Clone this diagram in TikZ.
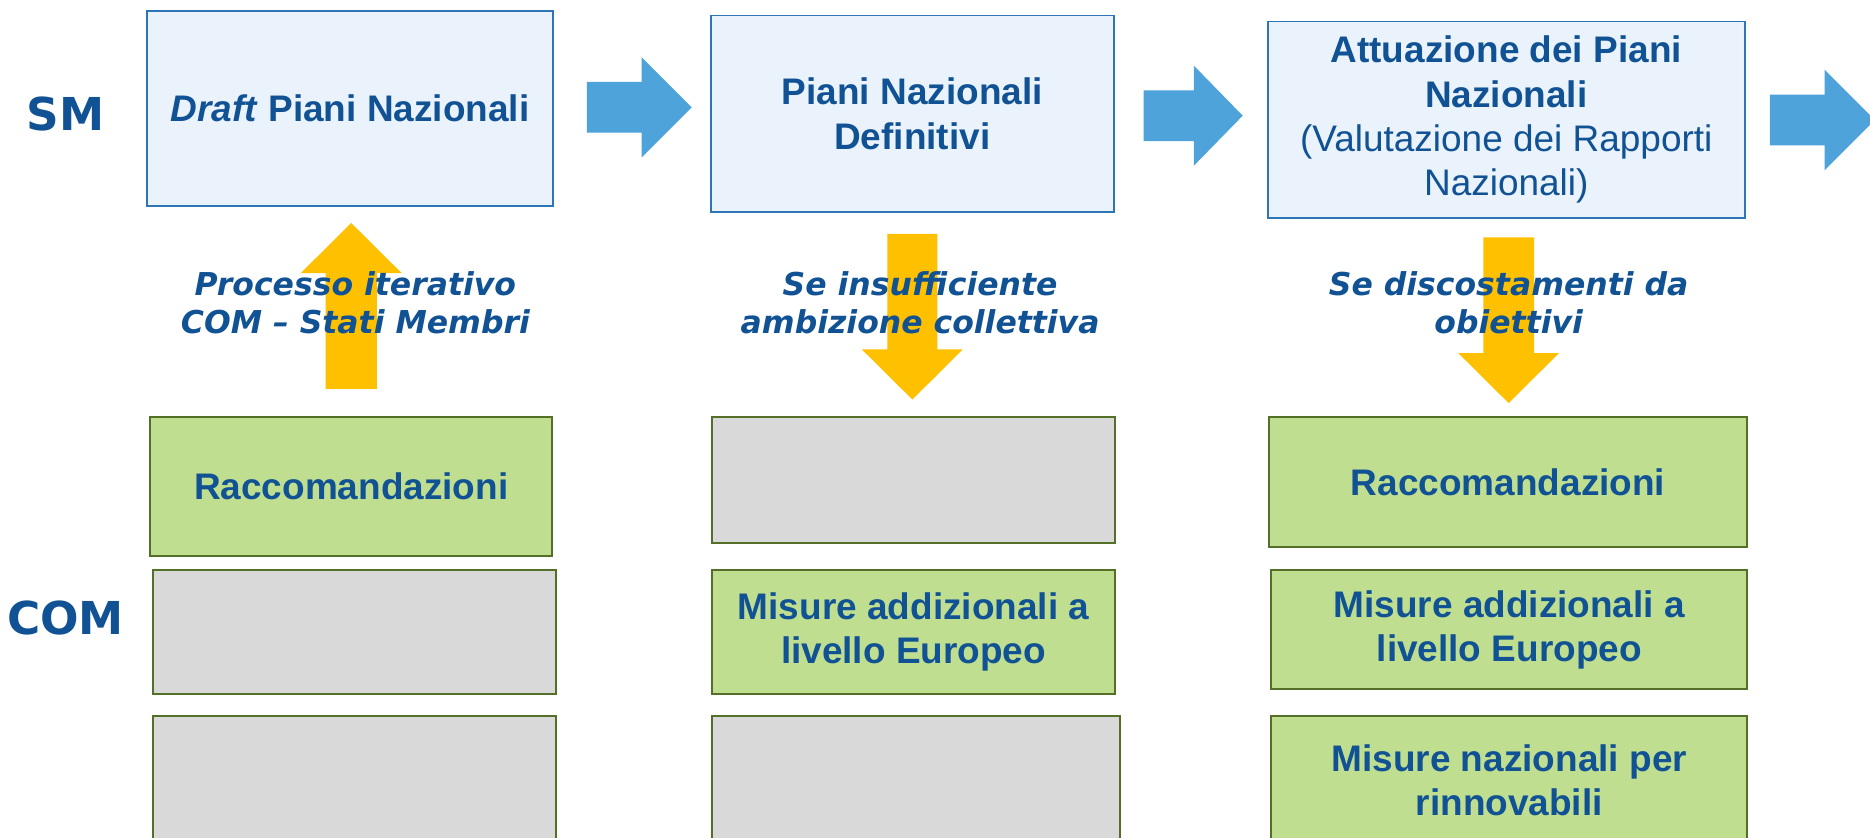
\documentclass[tikz,border=0pt]{standalone}
\usepackage{fontspec}
\setmainfont[Ligatures=TeX]{Liberation Sans}
\newfontfamily\verd[Ligatures=TeX]{DejaVu Sans}
\definecolor{txtblue}{RGB}{17,82,148}
\definecolor{smfill}{RGB}{234,243,251}
\definecolor{smborder}{RGB}{46,117,182}
\definecolor{grfill}{RGB}{191,222,143}
\definecolor{grborder}{RGB}{84,112,40}
\definecolor{gyfill}{RGB}{217,217,217}
\definecolor{arrblue}{RGB}{78,163,219}
\definecolor{arryel}{RGB}{255,192,0}
\newcommand\blockright[4]{% x0, xhead, xtip, ycenter
  \fill[arrblue] (#1,#4-21.3) -- (#2,#4-21.3) -- (#2,#4-42) -- (#3,#4) -- (#2,#4+42) -- (#2,#4+21.3) -- (#1,#4+21.3) -- cycle;}
\newcommand\blockvert[5]{% xcenter, yend(base), yhead, ytip, shaft half
  \fill[arryel] (#1-#5,#2) -- (#1+#5,#2) -- (#1+#5,#3) -- (#1+42.3,#3) -- (#1,#4) -- (#1-42.3,#3) -- (#1-#5,#3) -- cycle;}
\begin{document}
\begin{tikzpicture}[x=1pt,y=-1pt,
  boxtext/.style={font=\fontsize{31}{37.2}\selectfont\bfseries, text=txtblue, align=center, inner sep=0pt},
  smbox/.style={boxtext, draw=smborder, fill=smfill, line width=1.5pt},
  grbox/.style={boxtext, draw=grborder, fill=grfill, line width=1.6pt},
  gybox/.style={boxtext, draw=grborder, fill=gyfill, line width=1.6pt},
  rowlabel/.style={font=\verd\fontsize{38}{44}\selectfont\bfseries, text=txtblue, inner sep=0pt},
  condtext/.style={font=\verd\fontsize{26.4}{31.7}\selectfont\bfseries\itshape, text=txtblue, align=center, inner sep=0pt}]
\useasboundingbox (0,0) rectangle (1568,702);
\clip (0,0) rectangle (1568,702);
\fill[white] (0,0) rectangle (1568,702);

% row labels
\node[rowlabel] (sm) at (55,96) {SM};
\node[rowlabel] (com) at (55,518) {COM};

% SM boxes
\node[smbox, minimum width=341pt, minimum height=164pt] (b1) at (293.5,91) {\textit{Draft} Piani Nazionali};
\node[smbox, minimum width=338pt, minimum height=165pt] (b2) at (765,95.5) {Piani Nazionali\\Definitivi};
\node[smbox, minimum width=400pt, minimum height=165pt] (b3) at (1263,100.5) {Attuazione dei Piani\\Nazionali\\\mdseries(Valutazione dei Rapporti\\\mdseries Nazionali)};

% blue block arrows
\blockright{492}{538}{580}{90}
\blockright{959}{1001}{1042}{97}
\blockright{1484}{1530}{1572}{100.6}

% yellow block arrows
\blockvert{294.5}{326}{229}{187}{21.5}
\blockvert{765}{196}{293}{335}{21}
\blockvert{1265}{199}{296}{338}{21.3}

% condition texts
\node[condtext] (t1) at (298,254) {Processo iterativo\\COM – Stati Membri};
\node[condtext] (t2) at (771.5,254) {Se insufficiente\\ambizione collettiva};
\node[condtext] (t3) at (1265,254) {Se discostamenti da\\obiettivi};

% COM column 1
\node[grbox, minimum width=337pt, minimum height=116pt] (c1a) at (294.5,408) {Raccomandazioni};
\node[gybox, minimum width=338pt, minimum height=104pt] (c1b) at (297,530) {};
\node[gybox, minimum width=338pt, minimum height=112pt] (c1c) at (297,656) {};
% COM column 2
\node[gybox, minimum width=338pt, minimum height=105pt] (c2a) at (766,402.5) {};
\node[grbox, minimum width=338pt, minimum height=104pt] (c2b) at (766,530) {Misure addizionali a\\livello Europeo};
\node[gybox, minimum width=342pt, minimum height=112pt] (c2c) at (768,656) {};
% COM column 3
\node[grbox, minimum width=401pt, minimum height=109pt] (c3a) at (1264.5,404.5) {Raccomandazioni};
\node[grbox, minimum width=399pt, minimum height=100pt] (c3b) at (1265.5,528) {Misure addizionali a\\livello Europeo};
\node[grbox, minimum width=399pt, minimum height=108pt] (c3c) at (1265.5,654) {Misure nazionali per\\rinnovabili};
\end{tikzpicture}
\end{document}
